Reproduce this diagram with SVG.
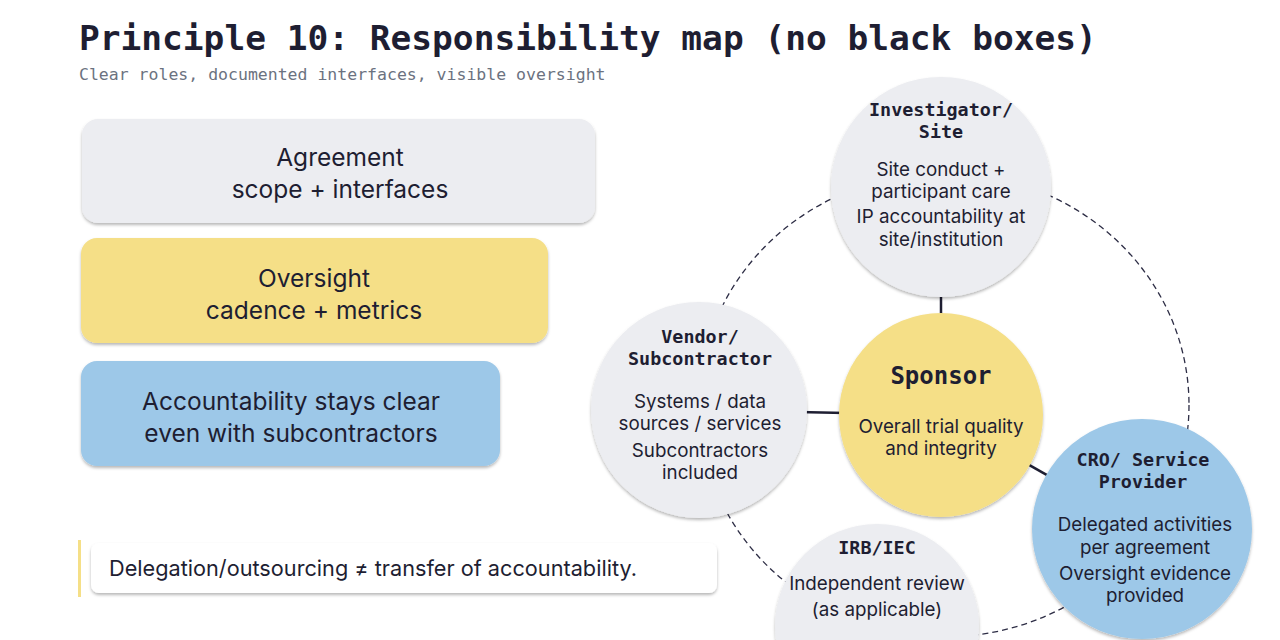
<svg xmlns="http://www.w3.org/2000/svg" width="1280" height="640" viewBox="0 0 1280 640">
<defs>
<filter id="sh" x="-20%" y="-20%" width="140%" height="150%">
<feDropShadow dx="0" dy="2" stdDeviation="1.5" flood-color="#000" flood-opacity="0.28"/>
</filter>
<style>
.title{font-family:"DejaVu Sans Mono","Liberation Mono",monospace;font-weight:bold;font-size:34.5px;fill:#1e1e32}
.sub{font-family:"DejaVu Sans Mono","Liberation Mono",monospace;font-size:16.5px;fill:#6b7280}
.box{font-family:Inter,"Noto Sans",sans-serif;font-size:24.5px;fill:#1e1e32;text-anchor:middle}
.note{font-family:Inter,"Noto Sans",sans-serif;font-size:21.7px;fill:#1e1e32}
.nt{font-family:"DejaVu Sans Mono","Liberation Mono",monospace;font-weight:bold;font-size:18.4px;fill:#1e1e32;text-anchor:middle}
.st{font-family:"DejaVu Sans Mono","Liberation Mono",monospace;font-weight:bold;font-size:24px;fill:#1e1e32;text-anchor:middle}
.nb{font-family:Inter,"Noto Sans",sans-serif;font-size:18.8px;fill:#1e1e32;text-anchor:middle}
.gray{fill:#ecedf1}
.yel{fill:#f5df87}
.blue{fill:#9dc8e8}
.conn{stroke:#1e1e32;stroke-width:2.5;fill:none}
.ring{stroke:#2d2d45;stroke-width:1.3;fill:none;stroke-dasharray:6 4}
</style>
</defs>
<rect width="1280" height="640" fill="#ffffff"/>
<g id="header">
<text class="title" x="79" y="50">Principle 10: Responsibility map (no black boxes)</text>
<text class="sub" x="79" y="80">Clear roles, documented interfaces, visible oversight</text>
</g>
<g id="box-agreement">
<rect class="gray" x="82" y="119" width="513" height="104" rx="16" filter="url(#sh)"/>
<text class="box" x="340" y="166">Agreement</text>
<text class="box" x="340" y="198">scope + interfaces</text>
</g>
<g id="box-oversight">
<rect class="yel" x="81" y="238" width="467" height="105" rx="16" filter="url(#sh)"/>
<text class="box" x="314" y="287">Oversight</text>
<text class="box" x="314" y="319">cadence + metrics</text>
</g>
<g id="box-accountability">
<rect class="blue" x="81" y="361" width="419" height="105" rx="16" filter="url(#sh)"/>
<text class="box" x="291" y="410">Accountability stays clear</text>
<text class="box" x="291" y="442">even with subcontractors</text>
</g>
<g id="note">
<rect x="78" y="540" width="3" height="57" fill="#f5df87"/>
<rect x="91" y="543" width="626" height="50" rx="8" fill="#ffffff" filter="url(#sh)"/>
<text class="note" x="109" y="576">Delegation/outsourcing ≠ transfer of accountability.</text>
</g>
<g id="connectors">
<ellipse class="ring" cx="944" cy="405" rx="245" ry="232"/>
<line class="conn" x1="941" y1="415" x2="941" y2="187"/>
<line class="conn" x1="941" y1="415" x2="699" y2="410"/>
<line class="conn" x1="941" y1="415" x2="1142" y2="529"/>
</g>
<g id="node-investigator">
<circle class="gray" cx="941" cy="187" r="110" filter="url(#sh)"/>
<text class="nt" x="941" y="116">Investigator/</text>
<text class="nt" x="941" y="138">Site</text>
<text class="nb" x="941" y="176">Site conduct +</text>
<text class="nb" x="941" y="198">participant care</text>
<text class="nb" x="941" y="223">IP accountability at</text>
<text class="nb" x="941" y="246">site/institution</text>
</g>
<g id="node-vendor">
<circle class="gray" cx="699" cy="410" r="108" filter="url(#sh)"/>
<text class="nt" x="700" y="343">Vendor/</text>
<text class="nt" x="700" y="365">Subcontractor</text>
<text class="nb" x="700" y="408">Systems / data</text>
<text class="nb" x="700" y="430">sources / services</text>
<text class="nb" x="700" y="457">Subcontractors</text>
<text class="nb" x="700" y="479">included</text>
</g>
<g id="node-sponsor">
<circle class="yel" cx="941" cy="415" r="102" filter="url(#sh)"/>
<text class="st" x="941" y="384">Sponsor</text>
<text class="nb" x="941" y="433">Overall trial quality</text>
<text class="nb" x="941" y="455">and integrity</text>
</g>
<g id="node-irb">
<circle class="gray" cx="877" cy="626" r="102" filter="url(#sh)"/>
<text class="nt" x="877" y="554">IRB/IEC</text>
<text class="nb" x="877" y="590">Independent review</text>
<text class="nb" x="877" y="616">(as applicable)</text>
</g>
<g id="node-cro">
<circle class="blue" cx="1142" cy="529" r="110" filter="url(#sh)"/>
<text class="nt" x="1143" y="466">CRO/ Service</text>
<text class="nt" x="1143" y="488">Provider</text>
<text class="nb" x="1145" y="531">Delegated activities</text>
<text class="nb" x="1145" y="554">per agreement</text>
<text class="nb" x="1145" y="580">Oversight evidence</text>
<text class="nb" x="1145" y="602">provided</text>
</g>
</svg>
